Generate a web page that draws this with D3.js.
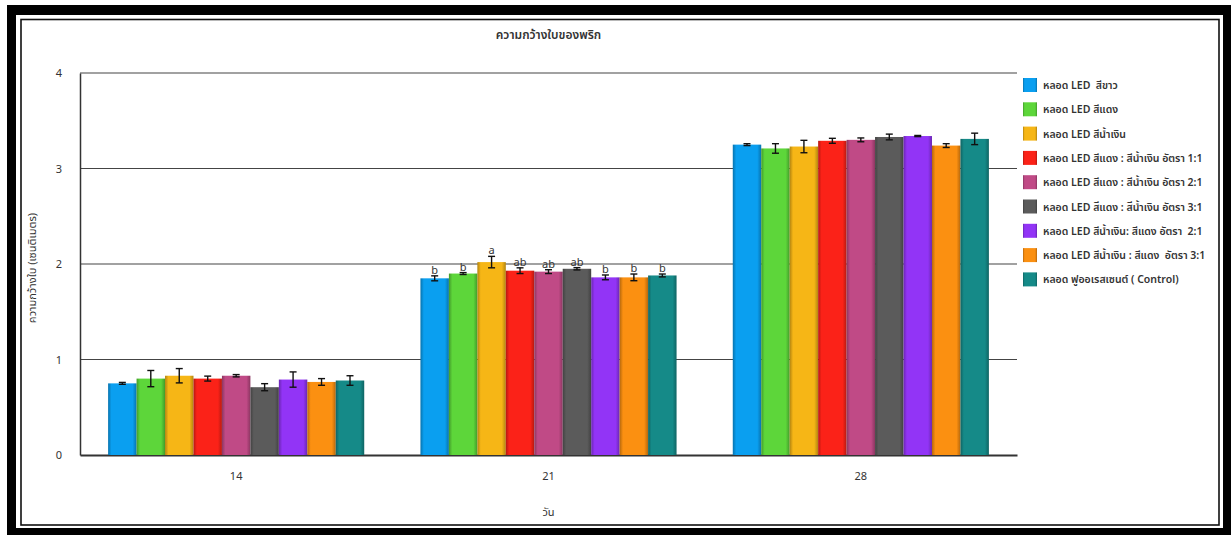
<!DOCTYPE html>
<html>
<head>
<meta charset="utf-8">
<script src="https://cdn.jsdelivr.net/npm/d3@7"></script>
<style>
  html, body { margin: 0; padding: 0; background: #fff; }
  svg { display: block; }
  text { font-family: Tahoma, "Noto Sans Thai", "Noto Sans", "DejaVu Sans", sans-serif; fill: #333; white-space: pre; }
</style>
</head>
<body>
<svg id="chart" width="1231" height="535"></svg>
<script>
// Days of measurement (x categories)
const days = ["14", "21", "28"];

// Light treatments (legend entries)
const treatments = [
  "หลอด LED  สีขาว",
  "หลอด LED สีแดง",
  "หลอด LED สีน้ำเงิน",
  "หลอด LED สีแดง : สีน้ำเงิน อัตรา 1:1",
  "หลอด LED สีแดง : สีน้ำเงิน อัตรา 2:1",
  "หลอด LED สีแดง : สีน้ำเงิน อัตรา 3:1",
  "หลอด LED สีน้ำเงิน: สีแดง อัตรา  2:1",
  "หลอด LED สีน้ำเงิน : สีแดง  อัตรา 3:1",
  "หลอด ฟูออเรสเซนต์ ( Control)"
];

const colors = ["#0a9ff0", "#5dd63a", "#f6b616", "#fb2218", "#c04a86", "#5b5b5b", "#9234f6", "#fb9011", "#158a88"];

// Mean leaf width (cm) per treatment, one array per day
const day14 = [0.75, 0.80, 0.83, 0.80, 0.83, 0.71, 0.79, 0.765, 0.78];
const day21 = [1.85, 1.90, 2.02, 1.93, 1.92, 1.95, 1.86, 1.86, 1.88];
const day28 = [3.25, 3.21, 3.23, 3.29, 3.30, 3.33, 3.34, 3.24, 3.31];

// Standard errors
const err14 = [0.01, 0.085, 0.075, 0.026, 0.012, 0.037, 0.08, 0.035, 0.05];
const err21 = [0.026, 0.01, 0.06, 0.03, 0.02, 0.012, 0.025, 0.035, 0.015];
const err28 = [0.01, 0.05, 0.065, 0.026, 0.02, 0.03, 0.006, 0.02, 0.06];

// Significance letters (day 21 only)
const letters21 = ["b", "b", "a", "ab", "ab", "ab", "b", "b", "b"];

const yTicks = [0, 1, 2, 3, 4];

const svg = d3.select("#chart");

// Frame: thick black border with a thin inner line
svg.append("rect").attr("x", 7).attr("y", 5).attr("width", 1224).attr("height", 530).attr("fill", "#000");
svg.append("rect").attr("x", 16).attr("y", 15).attr("width", 1207).attr("height", 513).attr("fill", "#fff");
svg.append("rect").attr("x", 21).attr("y", 19.5).attr("width", 1198).attr("height", 505.5)
  .attr("fill", "#fff").attr("stroke", "#111").attr("stroke-width", 1.6);

const plot = { left: 80, right: 1017, top: 73, bottom: 455 };

const x = d3.scaleBand().domain(days).range([plot.left, plot.right]).padding(0);
const bw = x.bandwidth();
const xi = d3.scaleBand().domain(d3.range(treatments.length))
  .range([bw * 0.09, bw * 0.91]).padding(0);
const y = d3.scaleLinear().domain([0, 4]).range([plot.bottom, plot.top]);

// Gradients giving each bar darker side edges
const defs = svg.append("defs");
colors.forEach((c, i) => {
  const g = defs.append("linearGradient").attr("id", "grad" + i)
    .attr("x1", "0").attr("x2", "1").attr("y1", "0").attr("y2", "0");
  const dark = d3.color(c).darker(0.9);
  g.append("stop").attr("offset", "0").attr("stop-color", dark);
  g.append("stop").attr("offset", "0.12").attr("stop-color", c);
  g.append("stop").attr("offset", "0.86").attr("stop-color", c);
  g.append("stop").attr("offset", "1").attr("stop-color", dark);
});

// Gridlines
svg.append("g").selectAll("line").data(yTicks.filter(d => d > 0)).join("line")
  .attr("x1", plot.left).attr("x2", plot.right)
  .attr("y1", d => y(d)).attr("y2", d => y(d))
  .attr("stroke", "#444").attr("stroke-width", 1.2);

// Y axis
const yAxis = svg.append("g").attr("transform", `translate(${plot.left},0)`)
  .call(d3.axisLeft(y).tickValues(yTicks).tickSize(0).tickPadding(18).tickFormat(d3.format("d")));
yAxis.select(".domain").attr("stroke", "#333").attr("stroke-width", 1.5);
yAxis.selectAll("text").attr("font-size", 11).attr("fill", "#222");

// X axis
const xAxis = svg.append("g").attr("transform", `translate(0,${plot.bottom})`)
  .call(d3.axisBottom(x).tickSize(0).tickPadding(17));
xAxis.select(".domain").attr("stroke", "#333").attr("stroke-width", 1.8);
xAxis.selectAll("text").attr("font-size", 11).attr("fill", "#222");

// Bars
const series = [
  { day: "14", vals: day14, errs: err14, letters: null },
  { day: "21", vals: day21, errs: err21, letters: letters21 },
  { day: "28", vals: day28, errs: err28, letters: null }
];

series.forEach(s => {
  const g = svg.append("g").attr("transform", `translate(${x(s.day)},0)`);
  const rows = s.vals.map((v, i) => ({ i, v, e: s.errs[i], l: s.letters ? s.letters[i] : null }));
  g.selectAll("rect").data(rows).join("rect")
    .attr("x", d => xi(d.i)).attr("width", xi.bandwidth())
    .attr("y", d => y(d.v)).attr("height", d => y(0) - y(d.v))
    .attr("fill", d => `url(#grad${d.i})`);
  // error bars
  const eb = g.append("g").attr("stroke", "#111").attr("stroke-width", 1.4);
  rows.forEach(d => {
    const cx = xi(d.i) + xi.bandwidth() / 2;
    eb.append("line").attr("x1", cx).attr("x2", cx).attr("y1", y(d.v + d.e)).attr("y2", y(d.v - d.e));
    eb.append("line").attr("x1", cx - 3.5).attr("x2", cx + 3.5).attr("y1", y(d.v + d.e)).attr("y2", y(d.v + d.e));
    eb.append("line").attr("x1", cx - 3.5).attr("x2", cx + 3.5).attr("y1", y(d.v - d.e)).attr("y2", y(d.v - d.e));
  });
  if (s.letters) {
    g.selectAll("text.sig").data(rows).join("text").attr("class", "sig")
      .attr("x", d => xi(d.i) + xi.bandwidth() / 2)
      .attr("y", d => y(d.v + d.e) - 2)
      .attr("text-anchor", "middle").attr("font-size", 11).attr("fill", "#444")
      .text(d => d.l);
  }
});

// Title
svg.append("text").attr("x", (plot.left + plot.right) / 2).attr("y", 39)
  .attr("text-anchor", "middle").attr("font-size", 12).attr("fill", "#111").attr("font-weight", 600)
  .text("ความกว้างใบของพริก");

// Axis titles
svg.append("text").attr("transform", `translate(36,${(plot.top + plot.bottom) / 2 + 4}) rotate(-90)`)
  .attr("text-anchor", "middle").attr("font-size", 11).attr("fill", "#222")
  .text("ความกว้างใบ (เซนติเมตร)");
svg.append("text").attr("x", (plot.left + plot.right) / 2).attr("y", 516)
  .attr("text-anchor", "middle").attr("font-size", 11).attr("fill", "#222")
  .text("วัน");

// Legend
const legend = svg.append("g").attr("transform", "translate(1023,85)");
const rowsL = legend.selectAll("g").data(treatments).join("g")
  .attr("transform", (d, i) => `translate(0,${i * 24.3})`);
rowsL.append("rect").attr("x", 0).attr("y", -7).attr("width", 14).attr("height", 14)
  .attr("fill", (d, i) => `url(#grad${i})`);
rowsL.append("text").attr("x", 20).attr("y", 4).attr("font-size", 10.5).attr("fill", "#111").attr("font-weight", 600)
  .text(d => d);
</script>
</body>
</html>
